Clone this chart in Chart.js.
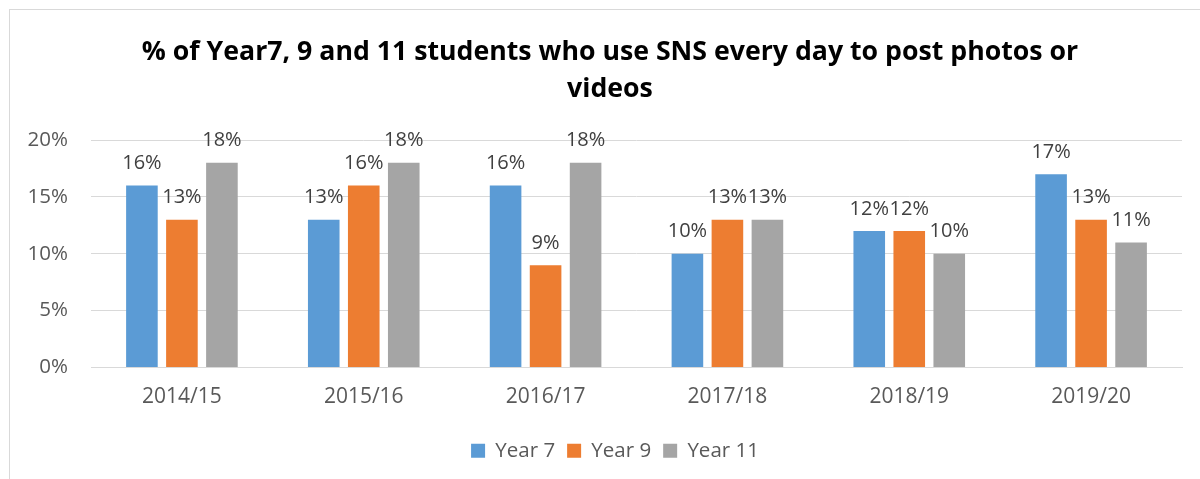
<!DOCTYPE html>
<html lang="en">
<head>
    <meta charset="UTF-8">
    <title>SNS photo posting by year group</title>
    <script src="https://cdn.jsdelivr.net/npm/chart.js"></script>
    <style>
        body { margin: 0; background: #fff; overflow: hidden; }
        .wrap { position: relative; width: 1200px; height: 479px; }
        .frame {
            position: absolute; left: 9px; top: 9px; right: -10px; bottom: -10px;
            border: 1px solid #d9d9d9; pointer-events: none;
        }
    </style>
</head>
<body>
    <div class="wrap">
        <canvas id="myChart" width="1200" height="479"></canvas>
        <div class="frame"></div>
    </div>
    <script>
        const years = ['2014/15', '2015/16', '2016/17', '2017/18', '2018/19', '2019/20'];
        const year7 = [16, 13, 16, 10, 12, 17];
        const year9 = [13, 16, 9, 13, 12, 13];
        const year11 = [18, 18, 18, 13, 10, 11];
        const yTicks = [0, 5, 10, 15, 20];

        const fontFamily = "'Open Sans', sans-serif";

        // value labels above each bar
        const barLabels = {
            id: 'barLabels',
            afterDatasetsDraw(chart) {
                const ctx = chart.ctx;
                ctx.save();
                ctx.font = '20px ' + fontFamily;
                ctx.fillStyle = '#404040';
                ctx.textAlign = 'center';
                ctx.textBaseline = 'bottom';
                chart.data.datasets.forEach((ds, i) => {
                    chart.getDatasetMeta(i).data.forEach((bar, j) => {
                        ctx.fillText(ds.data[j] + '%', bar.x, bar.y - 12);
                    });
                });
                ctx.restore();
            }
        };

        // title and legend sit a little right of the plot centre in the original
        const nudge = {
            id: 'nudge',
            afterLayout(chart) {
                chart.titleBlock.left += 19;
                chart.titleBlock.right += 19;
                chart.legend.left += 24;
                chart.legend.right += 24;
            }
        };

        new Chart(document.getElementById('myChart'), {
            type: 'bar',
            data: {
                labels: years,
                datasets: [
                    { label: 'Year 7', data: year7, backgroundColor: '#5b9bd5' },
                    { label: 'Year 9', data: year9, backgroundColor: '#ed7d31' },
                    { label: 'Year 11', data: year11, backgroundColor: '#a5a5a5' }
                ]
            },
            options: {
                responsive: false,
                animation: false,
                events: [],
                categoryPercentage: 0.66,
                barPercentage: 0.79,
                layout: { padding: { left: 0, right: 18, top: 0, bottom: 8 } },
                plugins: {
                    title: {
                        display: true,
                        text: ['% of Year7, 9 and 11 students who use SNS every day to post photos or', 'videos'],
                        color: '#000',
                        font: { family: fontFamily, size: 26.7, weight: 'bold', lineHeight: 1.386 },
                        padding: { top: 33.5, bottom: 32.5 }
                    },
                    legend: {
                        position: 'bottom',
                        labels: {
                            color: '#595959',
                            font: { family: fontFamily, size: 20.5 },
                            boxWidth: 14,
                            boxHeight: 14,
                            padding: 12
                        }
                    },
                    tooltip: { enabled: false }
                },
                scales: {
                    x: {
                        grid: { display: false },
                        border: { color: '#d9d9d9' },
                        ticks: { color: '#595959', font: { family: fontFamily, size: 21 }, padding: 9 },
                        afterFit(scale) { scale.height = 61; }
                    },
                    y: {
                        min: 0,
                        max: 20,
                        afterBuildTicks(scale) { scale.ticks = yTicks.map(v => ({ value: v })); },
                        grid: { color: '#d9d9d9', drawTicks: false },
                        border: { display: false },
                        ticks: {
                            color: '#595959',
                            font: { family: fontFamily, size: 20.5 },
                            padding: 23,
                            callback: v => v + '%'
                        },
                        afterFit(scale) { scale.width = 91; }
                    }
                }
            },
            plugins: [barLabels, nudge]
        });
    </script>
</body>
</html>
